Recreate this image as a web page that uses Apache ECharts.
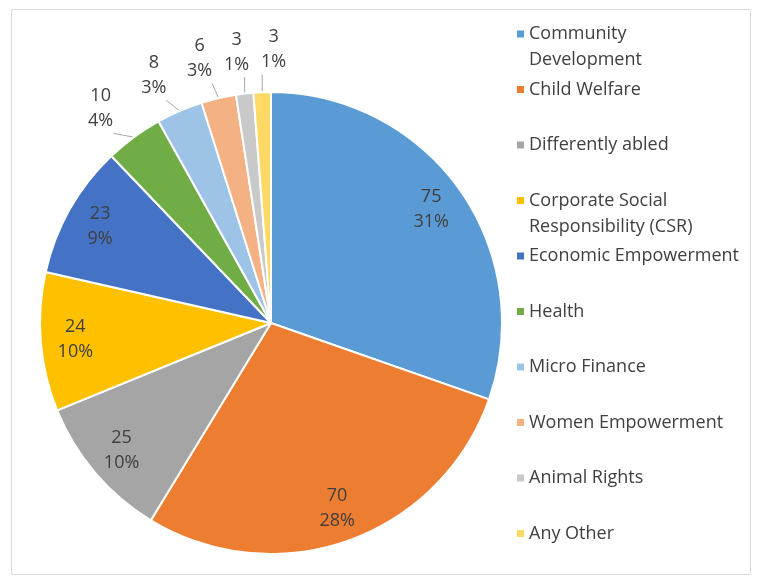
<!DOCTYPE html>
<html>
<head>
<meta charset="utf-8">
<title>Sectors</title>
<script src="https://cdn.jsdelivr.net/npm/echarts@6/dist/echarts.min.js"></script>
<style>
  html, body { margin: 0; padding: 0; background: #ffffff; }
  #chart { width: 757px; height: 580px; }
</style>
</head>
<body>
<div id="chart"></div>
<script>
// Sector names and counts
const categories = [
  'Community Development', 'Child Welfare', 'Differently abled',
  'Corporate Social Responsibility (CSR)', 'Economic Empowerment', 'Health',
  'Micro Finance', 'Women Empowerment', 'Animal Rights', 'Any Other'
];
const values = [75, 70, 25, 24, 23, 10, 8, 6, 3, 3];
// Legend text, wrapped where the legend column is too narrow
const legendLabels = [
  'Community\nDevelopment', 'Child Welfare', 'Differently abled',
  'Corporate Social\nResponsibility (CSR)', 'Economic Empowerment', 'Health',
  'Micro Finance', 'Women Empowerment', 'Animal Rights', 'Any Other'
];
const colors = ['#5B9BD5', '#ED7D31', '#A5A5A5', '#FFC000', '#4472C4',
                '#70AD47', '#9DC3E6', '#F4B183', '#C9C9C9', '#FFD966'];

const FONT = '"Open Sans", "Noto Sans", sans-serif';
const CX = 271, CY = 323, R = 231;

// Label anchor points: inside slices for large shares, above the rim for small ones
const total = values.reduce((a, b) => a + b, 0);
const labelInfo = [];
(function () {
  let acc = 0, lastOutX = null;
  values.forEach((v, i) => {
    const mid = (acc + v / 2) / total * 2 * Math.PI;   // clockwise from 12 o'clock
    acc += v;
    const outside = v / total < 0.05;
    let x, y;
    if (outside) {
      const a = mid - 2 * Math.PI / 180;
      x = CX + 274 * Math.sin(a);
      y = CY - 274 * Math.cos(a);
      if (lastOutX !== null && x - lastOutX < 37) x = lastOutX + 37;
      lastOutX = x;
    } else {
      x = CX + 0.85 * R * Math.sin(mid);
      y = CY - 0.85 * R * Math.cos(mid);
    }
    labelInfo.push({
      x, y, outside,
      rim: [CX + R * Math.sin(mid), CY - R * Math.cos(mid)]
    });
  });
})();

const chart = echarts.init(document.getElementById('chart'), null, { renderer: 'canvas' });

// One legend block per entry; wrapped entries get an empty leading line so
// the marker (centred on the text block) lines up with the first text line
const LINE = 26;
const legends = categories.map((name, i) => {
  const twoLines = legendLabels[i].indexOf('\n') >= 0;
  const markerY = 34 + 55.5 * i;
  return {
    orient: 'vertical',
    left: 517,
    top: twoLines ? markerY - 1.5 * LINE : markerY - LINE / 2,
    padding: 0,
    icon: 'rect',
    itemWidth: 7,
    itemHeight: 7,
    selectedMode: false,
    itemStyle: { borderWidth: 0 },
    formatter: () => (twoLines ? ' \n' : '') + legendLabels[i],
    textStyle: {
      fontFamily: FONT,
      fontSize: 18,
      lineHeight: LINE,
      color: '#404040'
    },
    data: [name]
  };
});

chart.setOption({
  animation: false,
  backgroundColor: '#ffffff',
  color: colors,
  graphic: [{
    type: 'rect',
    shape: { x: 11.5, y: 9.5, width: 739, height: 565 },
    style: { fill: 'none', stroke: '#d9d9d9', lineWidth: 1 },
    silent: true,
    z: -1
  }],
  legend: legends,
  series: [{
    type: 'pie',
    center: [CX, CY],
    radius: R,
    startAngle: 90,
    clockwise: true,
    percentPrecision: 0,
    avoidLabelOverlap: false,
    silent: true,
    itemStyle: { borderColor: '#ffffff', borderWidth: 2 },
    label: {
      formatter: '{c}\n{d}%',
      fontFamily: FONT,
      fontSize: 18,
      lineHeight: 25,
      color: '#404040',
      align: 'center'
    },
    labelLine: {
      lineStyle: { color: '#a6a6a6', width: 1 }
    },
    labelLayout: function (params) {
      const info = labelInfo[params.dataIndex];
      const res = { x: info.x, y: info.y, align: 'center', verticalAlign: 'middle' };
      if (info.outside) {
        const w = params.labelRect.width, h = params.labelRect.height;
        const x0 = info.x - w / 2, x1 = info.x + w / 2;
        const y0 = info.y - h / 2, y1 = info.y + h / 2;
        const p = info.rim;
        const q = [Math.min(Math.max(p[0], x0), x1), Math.min(Math.max(p[1], y0), y1)];
        res.labelLinePoints = [p, [(p[0] + q[0]) / 2, (p[1] + q[1]) / 2], q];
      }
      return res;
    },
    data: categories.map((name, i) => ({
      name,
      value: values[i],
      label: { position: labelInfo[i].outside ? 'outside' : 'inside' },
      labelLine: { show: labelInfo[i].outside, length: 5, length2: 5 }
    }))
  }]
});
</script>
</body>
</html>
